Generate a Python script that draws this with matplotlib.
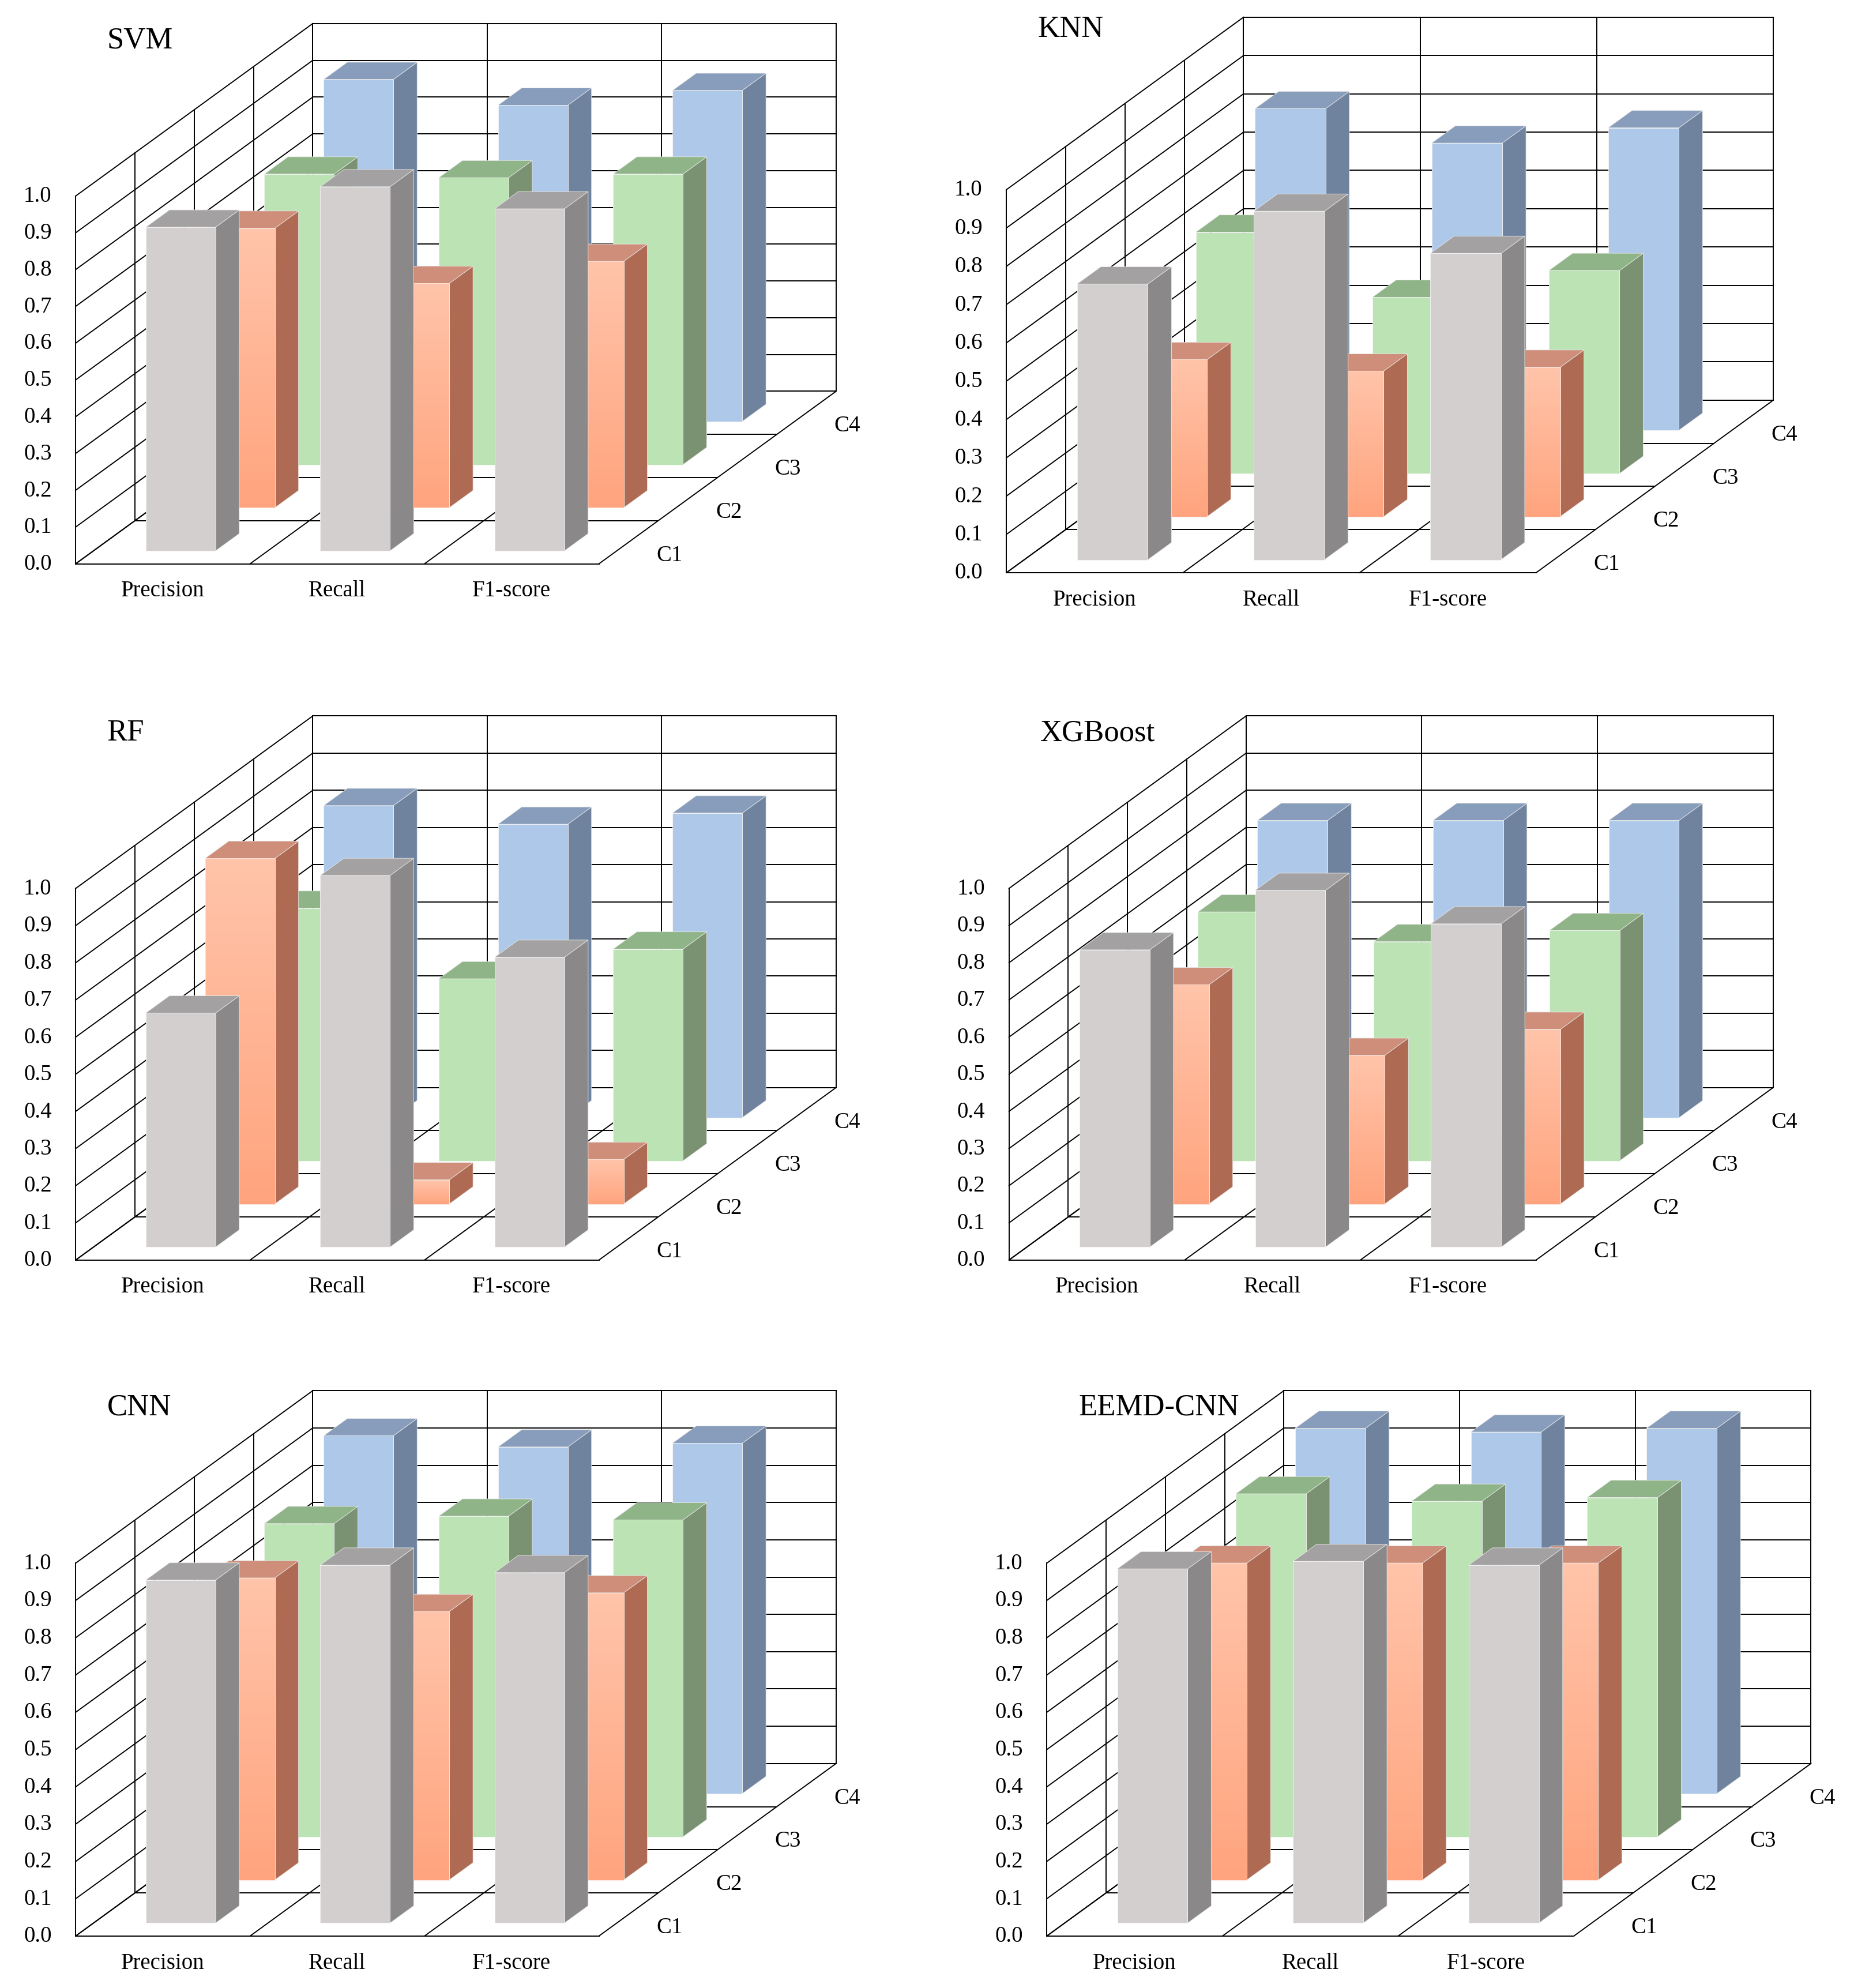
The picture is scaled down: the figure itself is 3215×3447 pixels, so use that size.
import numpy as np
import matplotlib.pyplot as plt
from matplotlib.patches import Polygon
from matplotlib.colors import LinearSegmentedColormap

# categories and series
categories = ["Precision", "Recall", "F1-score"]
series = ["C1", "C2", "C3", "C4"]
yticks = [0.0, 0.1, 0.2, 0.3, 0.4, 0.5, 0.6, 0.7, 0.8, 0.9, 1.0]

# values per model, rows = C1..C4, cols = Precision, Recall, F1-score
svm = [[0.88, 0.99, 0.93],
       [0.76, 0.61, 0.67],
       [0.79, 0.78, 0.79],
       [0.93, 0.86, 0.90]]
knn = [[0.72, 0.91, 0.80],
       [0.41, 0.38, 0.39],
       [0.63, 0.46, 0.53],
       [0.84, 0.75, 0.79]]
rf = [[0.63, 1.00, 0.78],
      [0.93, 0.065, 0.12],
      [0.68, 0.49, 0.57],
      [0.84, 0.79, 0.82]]
xgb = [[0.80, 0.96, 0.87],
       [0.59, 0.40, 0.47],
       [0.67, 0.59, 0.62],
       [0.80, 0.80, 0.80]]
cnn = [[0.92, 0.96, 0.94],
       [0.81, 0.72, 0.77],
       [0.84, 0.86, 0.85],
       [0.96, 0.93, 0.94]]
eemd_cnn = [[0.95, 0.97, 0.96],
            [0.85, 0.85, 0.85],
            [0.92, 0.90, 0.91],
            [0.98, 0.97, 0.98]]

# (title, values, origin x, origin y, category width, unit height, title y) in a 1470x1568 frame
panels = [("SVM", svm, 60, 445, 138.3, 290, 32),
          ("KNN", knn, 798, 452, 140, 302, 23),
          ("RF", rf, 60, 994, 138.3, 293, 578),
          ("XGBoost", xgb, 800, 994, 139.3, 293, 578),
          ("CNN", cnn, 60, 1527, 138.3, 294, 1110),
          ("EEMD-CNN", eemd_cnn, 830, 1527, 139.3, 294, 1110)]

DX, DY = 47, -34  # screen offset per depth row
# front, side, top colours per series
colors = [("#D3CFCF", "#8A8888", "#A3A1A1"),
          ("#FFB898", "#AE6A52", "#CE8E79"),
          ("#BBE3B3", "#7A9272", "#8FB487"),
          ("#ADC8E9", "#6F839E", "#879DBB")]
SERIF = "Liberation Serif"
orange_grad = LinearSegmentedColormap.from_list("o", ["#FFC4AA", "#FFA47E"])

fig = plt.figure(figsize=(32.15, 34.48), dpi=100)
ax = fig.add_axes([0, 0, 1, 1])
ax.set_xlim(0, 1470)
ax.set_ylim(1568, 0)
ax.axis("off")


def draw_panel(title, vals, ox, oy, cw, unit, ty):
    def P(xf, d, z):
        return (ox + xf * cw + d * DX, oy - z * unit + d * DY)

    def seg(a, b):
        ax.plot([a[0], b[0]], [a[1], b[1]], color="black", lw=1.4, zorder=1)

    ncat, nser = len(categories), len(series)
    # back wall
    for z in yticks:
        seg(P(0, nser, z), P(ncat, nser, z))
    for c in range(ncat + 1):
        seg(P(c, nser, 0), P(c, nser, 1))
    # left wall
    for z in yticks:
        seg(P(0, 0, z), P(0, nser, z))
    for d in range(nser + 1):
        seg(P(0, d, 0), P(0, d, 1))
    # floor
    for d in range(nser + 1):
        seg(P(0, d, 0), P(ncat, d, 0))
    for c in range(ncat + 1):
        seg(P(c, 0, 0), P(c, nser, 0))

    # bars, back rows first
    for r in range(nser - 1, -1, -1):
        fc, sc, tc = colors[r]
        for c in range(ncat):
            h = vals[r][c]
            x0, x1 = c + 0.3, c + 0.7
            d0, d1 = r + 0.3, r + 0.7
            zo = 10 + (nser - r) * 10 + c
            front = [P(x0, d0, 0), P(x1, d0, 0), P(x1, d0, h), P(x0, d0, h)]
            side = [P(x1, d0, 0), P(x1, d1, 0), P(x1, d1, h), P(x1, d0, h)]
            top = [P(x0, d0, h), P(x1, d0, h), P(x1, d1, h), P(x0, d1, h)]
            ax.add_patch(Polygon(side, closed=True, fc=sc, ec="#e8e8e8", lw=0.6, zorder=zo))
            ax.add_patch(Polygon(top, closed=True, fc=tc, ec="#e8e8e8", lw=0.6, zorder=zo))
            fp = Polygon(front, closed=True, fc=fc, ec="#f4f4f4", lw=0.6, zorder=zo)
            ax.add_patch(fp)
            if r == 1:
                # orange front face gradient
                grad = np.linspace(0, 1, 100).reshape(-1, 1)
                xs = [p[0] for p in front]
                ys = [p[1] for p in front]
                im = ax.imshow(grad, cmap=orange_grad, aspect="auto",
                               extent=(min(xs), max(xs), max(ys), min(ys)), zorder=zo + 0.5)
                im.set_clip_path(fp)
                ax.add_patch(Polygon(front, closed=True, fill=False, ec="#fbe3d8", lw=0.6, zorder=zo + 0.6))

    # y tick labels
    for z in yticks:
        x, y = P(0, 0, z)
        ax.text(x - 19, y, f"{z:.1f}", ha="right", va="center", fontsize=28, family=SERIF)
    # category labels
    for c, name in enumerate(categories):
        x, y = P(c + 0.5, 0, 0)
        ax.text(x, y + 21, name, ha="center", va="center", fontsize=28, family=SERIF)
    # series labels along the right floor edge
    for d, name in enumerate(series):
        x, y = P(ncat, d + 0.5, 0)
        ax.text(x + 22, y + 10, name, ha="left", va="center", fontsize=28, family=SERIF)
    ax.text(ox + 25, ty, title, ha="left", va="center", fontsize=38, family=SERIF)


for p in panels:
    draw_panel(*p)

fig.savefig("out.png", dpi=100)
